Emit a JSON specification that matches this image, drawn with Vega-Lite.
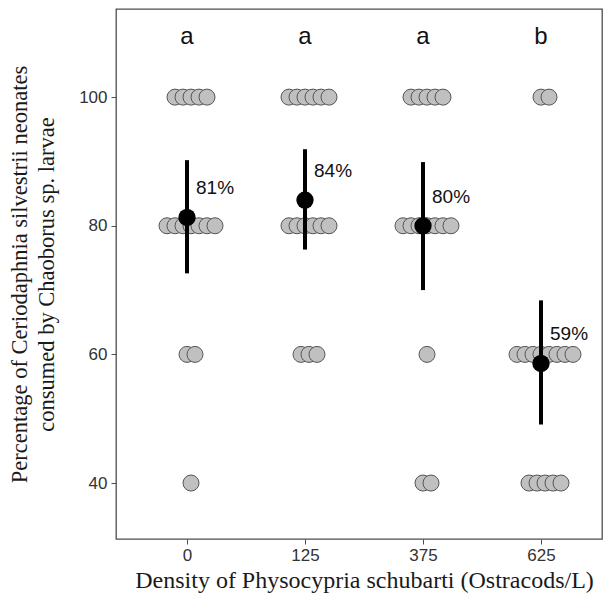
{
  "$schema": "https://vega.github.io/schema/vega-lite/v6.json",
  "width": 486,
  "height": 530,
  "autosize": "none",
  "padding": {"left": 116, "top": 9, "right": 3, "bottom": 65},
  "background": "white",
  "config": {
    "view": {"stroke": "#4d4d4d", "strokeWidth": 1.3},
    "axis": {
      "domain": false,
      "grid": false,
      "tickColor": "#4d4d4d",
      "tickSize": 5,
      "labelFont": "Liberation Sans",
      "labelFontSize": 17,
      "labelColor": "#333333",
      "titleFont": "Liberation Serif",
      "titleFontWeight": "normal",
      "titleColor": "#1a1a1a"
    }
  },
  "datasets": {
    "obs": [
      {"density": 0, "pct": 100}, {"density": 0, "pct": 100}, {"density": 0, "pct": 100}, {"density": 0, "pct": 100}, {"density": 0, "pct": 100},
      {"density": 0, "pct": 80}, {"density": 0, "pct": 80}, {"density": 0, "pct": 80}, {"density": 0, "pct": 80}, {"density": 0, "pct": 80}, {"density": 0, "pct": 80}, {"density": 0, "pct": 80},
      {"density": 0, "pct": 60}, {"density": 0, "pct": 60},
      {"density": 0, "pct": 40},
      {"density": 125, "pct": 100}, {"density": 125, "pct": 100}, {"density": 125, "pct": 100}, {"density": 125, "pct": 100}, {"density": 125, "pct": 100}, {"density": 125, "pct": 100},
      {"density": 125, "pct": 80}, {"density": 125, "pct": 80}, {"density": 125, "pct": 80}, {"density": 125, "pct": 80}, {"density": 125, "pct": 80}, {"density": 125, "pct": 80},
      {"density": 125, "pct": 60}, {"density": 125, "pct": 60}, {"density": 125, "pct": 60},
      {"density": 375, "pct": 100}, {"density": 375, "pct": 100}, {"density": 375, "pct": 100}, {"density": 375, "pct": 100}, {"density": 375, "pct": 100},
      {"density": 375, "pct": 80}, {"density": 375, "pct": 80}, {"density": 375, "pct": 80}, {"density": 375, "pct": 80}, {"density": 375, "pct": 80}, {"density": 375, "pct": 80}, {"density": 375, "pct": 80},
      {"density": 375, "pct": 60},
      {"density": 375, "pct": 40}, {"density": 375, "pct": 40},
      {"density": 625, "pct": 100}, {"density": 625, "pct": 100},
      {"density": 625, "pct": 60}, {"density": 625, "pct": 60}, {"density": 625, "pct": 60}, {"density": 625, "pct": 60}, {"density": 625, "pct": 60}, {"density": 625, "pct": 60}, {"density": 625, "pct": 60}, {"density": 625, "pct": 60},
      {"density": 625, "pct": 40}, {"density": 625, "pct": 40}, {"density": 625, "pct": 40}, {"density": 625, "pct": 40}, {"density": 625, "pct": 40}
    ],
    "summary": [
      {"density": 0, "mean": 81.3, "lo": 72.6, "hi": 90.2, "label": "81%", "sig": "a"},
      {"density": 125, "mean": 84.0, "lo": 76.3, "hi": 91.9, "label": "84%", "sig": "a"},
      {"density": 375, "mean": 80.0, "lo": 70.0, "hi": 89.9, "label": "80%", "sig": "a"},
      {"density": 625, "mean": 58.6, "lo": 49.1, "hi": 68.4, "label": "59%", "sig": "b"}
    ]
  },
  "encoding": {
    "x": {
      "field": "density",
      "type": "ordinal",
      "scale": {"type": "point", "range": [71, 425], "padding": 0},
      "axis": {
        "title": "Density of Physocypria schubarti (Ostracods/L)",
        "titleFontSize": 24,
        "labelAngle": 0,
        "labelPadding": 3,
        "titlePadding": 5
      }
    }
  },
  "layer": [
    {
      "data": {"name": "obs"},
      "transform": [
        {"window": [{"op": "row_number", "as": "k"}, {"op": "count", "as": "n"}], "groupby": ["density", "pct"], "frame": [null, null]},
        {"calculate": "datum.k - (datum.n + 1) / 2 + 0.5", "as": "slot"}
      ],
      "mark": {"type": "point", "shape": "circle", "filled": true, "fill": "#c0c0c0", "stroke": "#555555", "strokeWidth": 1, "size": 256, "opacity": 1},
      "encoding": {
        "xOffset": {"field": "slot", "type": "quantitative", "scale": {"domain": [-1, 1], "range": [-8, 8]}},
        "y": {
          "field": "pct",
          "type": "quantitative",
          "scale": {"domain": [31.3, 113.7], "nice": false, "zero": false},
          "title": ["Percentage of Ceriodaphnia silvestrii neonates", "consumed by Chaoborus sp. larvae"],
          "axis": {
            "values": [40, 60, 80, 100],
            "titleFontSize": 22.5,
            "titleLineHeight": 27,
            "titlePadding": 20,
            "labelPadding": 4
          }
        }
      }
    },
    {
      "data": {"name": "summary"},
      "mark": {"type": "rule", "color": "black", "strokeWidth": 4},
      "encoding": {
        "y": {"field": "lo", "type": "quantitative", "title": ["Percentage of Ceriodaphnia silvestrii neonates", "consumed by Chaoborus sp. larvae"]},
        "y2": {"field": "hi"}
      }
    },
    {
      "data": {"name": "summary"},
      "mark": {"type": "point", "shape": "circle", "filled": true, "color": "black", "size": 300, "opacity": 1},
      "encoding": {
        "y": {"field": "mean", "type": "quantitative", "title": ["Percentage of Ceriodaphnia silvestrii neonates", "consumed by Chaoborus sp. larvae"]}
      }
    },
    {
      "data": {"name": "summary"},
      "mark": {"type": "text", "align": "left", "baseline": "alphabetic", "dx": 9, "dy": -23, "font": "Liberation Sans", "fontSize": 19, "color": "#111111"},
      "encoding": {
        "y": {"field": "mean", "type": "quantitative", "title": ["Percentage of Ceriodaphnia silvestrii neonates", "consumed by Chaoborus sp. larvae"]},
        "text": {"field": "label"}
      }
    },
    {
      "data": {"name": "summary"},
      "mark": {"type": "text", "align": "center", "baseline": "middle", "font": "Liberation Sans", "fontSize": 24, "color": "#111111"},
      "encoding": {
        "y": {"datum": 109.4, "type": "quantitative"},
        "text": {"field": "sig"}
      }
    }
  ]
}
